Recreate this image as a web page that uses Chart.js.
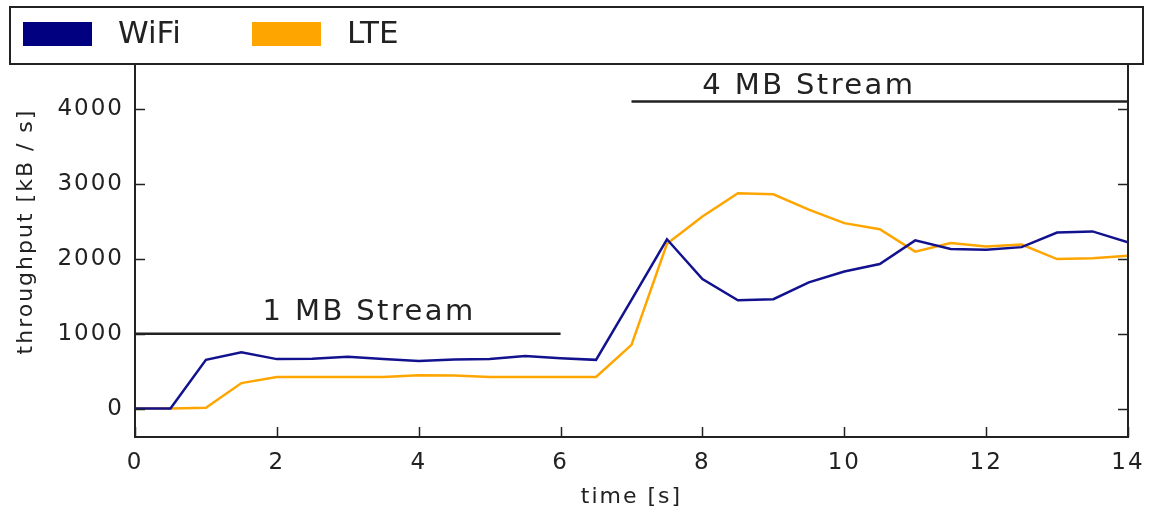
<!DOCTYPE html>
<html>
<head>
<meta charset="utf-8">
<script src="https://cdn.jsdelivr.net/npm/chart.js@4.4.1/dist/chart.umd.min.js"></script>
<style>
  body { margin: 0; background: #fff; }
  canvas { display: block; }
</style>
</head>
<body>
<canvas id="chart" width="1150" height="514"></canvas>
<script>
// DATA
const time = [0, 0.5, 1, 1.5, 2, 2.5, 3, 3.5, 4, 4.5, 5, 5.5, 6, 6.5, 7,
  7.5, 8, 8.5, 9, 9.5, 10, 10.5, 11, 11.5, 12, 12.5, 13, 13.5, 14];
const wifi = [0, 0, 650, 750, 660, 665, 690, 660, 635, 655, 660, 700, 670, 650, 1450,
  2260, 1730, 1445, 1460, 1685, 1830, 1930, 2245, 2130, 2120, 2155, 2350, 2365, 2220];
const lte = [0, 0, 10, 340, 420, 420, 420, 420, 445, 440, 422, 422, 422, 422, 850,
  2200, 2565, 2875, 2860, 2655, 2475, 2395, 2095, 2210, 2165, 2190, 1995, 2005, 2040];

const seriesNames = ["WiFi", "LTE"];
const xTicks = [0, 2, 4, 6, 8, 10, 12, 14];
const yTicks = [0, 1000, 2000, 3000, 4000];
const xTitle = "time [s]";
const yTitle = "throughput [kB / s]";

// stream markers
const streamNames = ["1 MB Stream", "4 MB Stream"];
const streamStart = [0, 7];
const streamEnd = [6, 14];
const streamLevel = [1000, 4100];
const streamTextX = [3.3, 9.5];
const streamTextY = [1187, 4200];

const FONT = "'DejaVu Sans', Verdana, sans-serif";
const INK = "#222";
const BLUE = "#12128f";
const ORANGE = "#ffa500";

const pts = (xs, ys) => xs.map((x, i) => ({ x, y: ys[i] }));

const datasets = [
  { label: seriesNames[0], data: pts(time, wifi), borderColor: BLUE, legendColor: "#000080", inLegend: true },
  { label: seriesNames[1], data: pts(time, lte), borderColor: ORANGE, legendColor: ORANGE, inLegend: true }
];
streamNames.forEach((name, i) => {
  datasets.push({
    label: name,
    data: [{ x: streamStart[i], y: streamLevel[i] }, { x: streamEnd[i], y: streamLevel[i] }],
    borderColor: INK,
    inLegend: false
  });
});
datasets.forEach(d => {
  d.borderWidth = 2.5;
  d.pointRadius = 0;
  d.fill = false;
  d.tension = 0;
});

// FRAME, TICKS, LABELS, LEGEND
const decor = {
  id: "decor",
  beforeDraw(chart) {
    chart.ctx.letterSpacing = "2px";
  },
  afterDraw(chart) {
    const { ctx, chartArea: a, scales } = chart;
    ctx.save();

    // stream labels
    ctx.fillStyle = INK;
    ctx.font = "29px " + FONT;
    ctx.letterSpacing = "2.4px";
    ctx.textAlign = "center";
    ctx.textBaseline = "alphabetic";
    streamNames.forEach((name, i) => {
      ctx.fillText(name, scales.x.getPixelForValue(streamTextX[i]), scales.y.getPixelForValue(streamTextY[i]));
    });

    // y title
    ctx.save();
    ctx.font = "22px " + FONT;
    ctx.letterSpacing = "2px";
    ctx.textBaseline = "middle";
    ctx.translate(26, (a.top + a.bottom) / 2 - 19);
    ctx.rotate(-Math.PI / 2);
    ctx.fillText(yTitle, 0, 0);
    ctx.restore();

    // inward ticks
    ctx.strokeStyle = INK;
    ctx.lineWidth = 1.5;
    ctx.beginPath();
    yTicks.forEach(v => {
      const y = Math.round(scales.y.getPixelForValue(v)) + 0.5;
      ctx.moveTo(a.left, y); ctx.lineTo(a.left + 10, y);
      ctx.moveTo(a.right, y); ctx.lineTo(a.right - 10, y);
    });
    xTicks.forEach(v => {
      const x = Math.round(scales.x.getPixelForValue(v)) + 0.5;
      ctx.moveTo(x, a.bottom); ctx.lineTo(x, a.bottom - 10);
    });
    ctx.stroke();

    // frame
    ctx.lineWidth = 2;
    ctx.strokeRect(a.left, a.top, a.right - a.left, a.bottom - a.top);

    // legend box
    ctx.fillStyle = "#fff";
    ctx.fillRect(10, 7, 1133, 57);
    ctx.strokeRect(10, 7, 1133, 57);
    ctx.letterSpacing = "0px";
    ctx.font = "31px " + FONT;
    ctx.textAlign = "left";
    ctx.textBaseline = "middle";
    chart.data.datasets.filter(d => d.inLegend).forEach((d, i) => {
      const x = 23 + i * 229;
      ctx.fillStyle = d.legendColor;
      ctx.fillRect(x, 22, 69, 24);
      ctx.fillStyle = INK;
      ctx.fillText(d.label, x + 95, 35);
    });
    ctx.restore();
  }
};

new Chart(document.getElementById("chart"), {
  type: "line",
  data: { datasets },
  options: {
    responsive: false,
    animation: false,
    layout: { padding: { top: 64, right: 22, left: 0, bottom: 0 } },
    plugins: { legend: { display: false }, tooltip: { enabled: false } },
    scales: {
      x: {
        type: "linear",
        min: 0,
        max: 14,
        afterBuildTicks: s => { s.ticks = xTicks.map(v => ({ value: v })); },
        afterFit: s => { s.height = 77; s.paddingLeft = 0; s.paddingRight = 0; },
        grid: { display: false, drawTicks: false },
        border: { display: false },
        ticks: { font: { family: FONT, size: 23 }, color: INK, padding: 12, maxRotation: 0 },
        title: { display: true, text: xTitle, font: { family: FONT, size: 22 }, color: INK, padding: { top: 0, bottom: 4 } }
      },
      y: {
        min: -380,
        max: 4600,
        afterBuildTicks: s => { s.ticks = yTicks.map(v => ({ value: v })); },
        afterFit: s => { s.width = 135; },
        grid: { display: false, drawTicks: false },
        border: { display: false },
        ticks: { font: { family: FONT, size: 23 }, color: INK, padding: 11, callback: v => String(v) },
        title: { display: false }
      }
    }
  },
  plugins: [decor]
});
</script>
</body>
</html>
